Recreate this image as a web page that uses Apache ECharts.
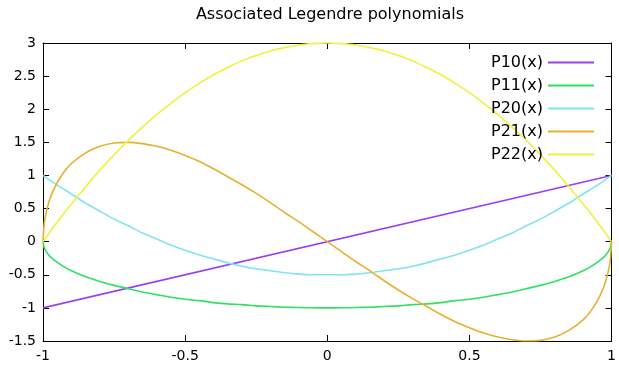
<!DOCTYPE html>
<html>
<head>
<meta charset="utf-8">
<script src="https://cdn.jsdelivr.net/npm/echarts@6/dist/echarts.min.js"></script>
<style>
  html, body { margin: 0; padding: 0; background: #fff; }
  #chart { width: 619px; height: 369px; }
</style>
</head>
<body>
<div id="chart"></div>
<script>
// sample points along x
const xs = [-1, -0.995, -0.98, -0.96, -0.93, -0.9, -0.85, -0.8, -0.75, -0.7, -0.65, -0.6, -0.55, -0.5,
    -0.45, -0.4, -0.35, -0.3, -0.25, -0.2, -0.15, -0.1, -0.05, 0, 0.05, 0.1, 0.15, 0.2, 0.25, 0.3, 0.35,
    0.4, 0.45, 0.5, 0.55, 0.6, 0.65, 0.7, 0.75, 0.8, 0.85, 0.9, 0.93, 0.96, 0.98, 0.995, 1];

const p10x = [-1, 1];
const p10 = [-1, 1];

const p11 = [0, -0.1, -0.2, -0.28, -0.37, -0.44, -0.53, -0.6, -0.66, -0.71, -0.76, -0.8, -0.84, -0.87,
    -0.89, -0.92, -0.94, -0.95, -0.97, -0.98, -0.99, -0.995, -0.999, -1, -0.999, -0.995, -0.99, -0.98, -0.97,
    -0.95, -0.94, -0.92, -0.89, -0.87, -0.84, -0.8, -0.76, -0.71, -0.66, -0.6, -0.53, -0.44, -0.37, -0.28,
    -0.2, -0.1, 0];

const p20 = [1, 0.985, 0.94, 0.88, 0.8, 0.72, 0.58, 0.46, 0.34, 0.24, 0.13, 0.04, -0.05, -0.13,
    -0.2, -0.26, -0.32, -0.37, -0.41, -0.44, -0.47, -0.49, -0.5, -0.5, -0.5, -0.49, -0.47, -0.44, -0.41,
    -0.37, -0.32, -0.26, -0.2, -0.13, -0.05, 0.04, 0.13, 0.24, 0.34, 0.46, 0.58, 0.72, 0.8, 0.88,
    0.94, 0.985, 1];

const p21 = [0, 0.3, 0.59, 0.81, 1.03, 1.18, 1.34, 1.44, 1.49, 1.5, 1.48, 1.44, 1.38, 1.3,
    1.21, 1.1, 0.98, 0.86, 0.73, 0.59, 0.44, 0.3, 0.15, 0, -0.15, -0.3, -0.44, -0.59, -0.73,
    -0.86, -0.98, -1.1, -1.21, -1.3, -1.38, -1.44, -1.48, -1.5, -1.49, -1.44, -1.34, -1.18, -1.03, -0.81,
    -0.59, -0.3, 0];

const p22 = [0, 0.03, 0.12, 0.24, 0.41, 0.57, 0.83, 1.08, 1.31, 1.53, 1.73, 1.92, 2.09, 2.25,
    2.39, 2.52, 2.63, 2.73, 2.81, 2.88, 2.93, 2.97, 2.99, 3, 2.99, 2.97, 2.93, 2.88, 2.81,
    2.73, 2.63, 2.52, 2.39, 2.25, 2.09, 1.92, 1.73, 1.53, 1.31, 1.08, 0.83, 0.57, 0.41, 0.24,
    0.12, 0.03, 0];

const names = ['P10(x)', 'P11(x)', 'P20(x)', 'P21(x)', 'P22(x)'];
const colors = ['#9a40f0', '#30e060', '#80e4f0', '#e8b030', '#f0f040'];

function pairs(x, y) {
    return x.map((v, i) => [v, y[i]]);
}

const chart = echarts.init(document.getElementById('chart'));

const font = 'DejaVu Sans';
const tickStyle = { show: true, inside: true, length: 6, lineStyle: { color: '#000' } };
const lineAxis = { show: true, onZero: false, lineStyle: { color: '#000', width: 1 } };

let curves = [pairs(p10x, p10), pairs(xs, p11), pairs(xs, p20), pairs(xs, p21), pairs(xs, p22)];

let option = {
    animation: false,
    color: colors,
    title: {
        text: 'Associated Legendre polynomials',
        left: 325,
        textAlign: 'center',
        top: 2,
        textStyle: { fontFamily: font, fontSize: 16, fontWeight: 'normal', color: '#000' }
    },
    legend: {
        orient: 'vertical',
        right: 20,
        top: 48,
        align: 'right',
        icon: 'rect',
        itemWidth: 46,
        itemHeight: 2,
        itemGap: 4,
        textStyle: { fontFamily: font, fontSize: 16, color: '#000', lineHeight: 19 },
        data: names
    },
    grid: { left: 43, right: 4, top: 43, bottom: 28, containLabel: false },
    xAxis: [
        {
            type: 'value', min: -1, max: 1, interval: 0.5,
            axisLine: lineAxis, axisTick: tickStyle, splitLine: { show: false },
            axisLabel: { fontFamily: font, fontSize: 14, color: '#000', margin: 8 }
        },
        {
            type: 'value', position: 'top', min: -1, max: 1, interval: 0.5,
            axisLine: lineAxis, axisTick: tickStyle, splitLine: { show: false },
            axisLabel: { show: false }
        }
    ],
    yAxis: [
        {
            type: 'value', min: -1.5, max: 3, interval: 0.5,
            axisLine: lineAxis, axisTick: tickStyle, splitLine: { show: false },
            axisLabel: { fontFamily: font, fontSize: 14, color: '#000', margin: 7 }
        },
        {
            type: 'value', position: 'right', min: -1.5, max: 3, interval: 0.5,
            axisLine: lineAxis, axisTick: tickStyle, splitLine: { show: false },
            axisLabel: { show: false }
        }
    ],
    series: curves.map((d, i) => ({
        name: names[i],
        type: 'line',
        data: d,
        symbol: 'none',
        smooth: 0.2,
        lineStyle: { width: 1.6 }
    }))
};

chart.setOption(option);
</script>
</body>
</html>
